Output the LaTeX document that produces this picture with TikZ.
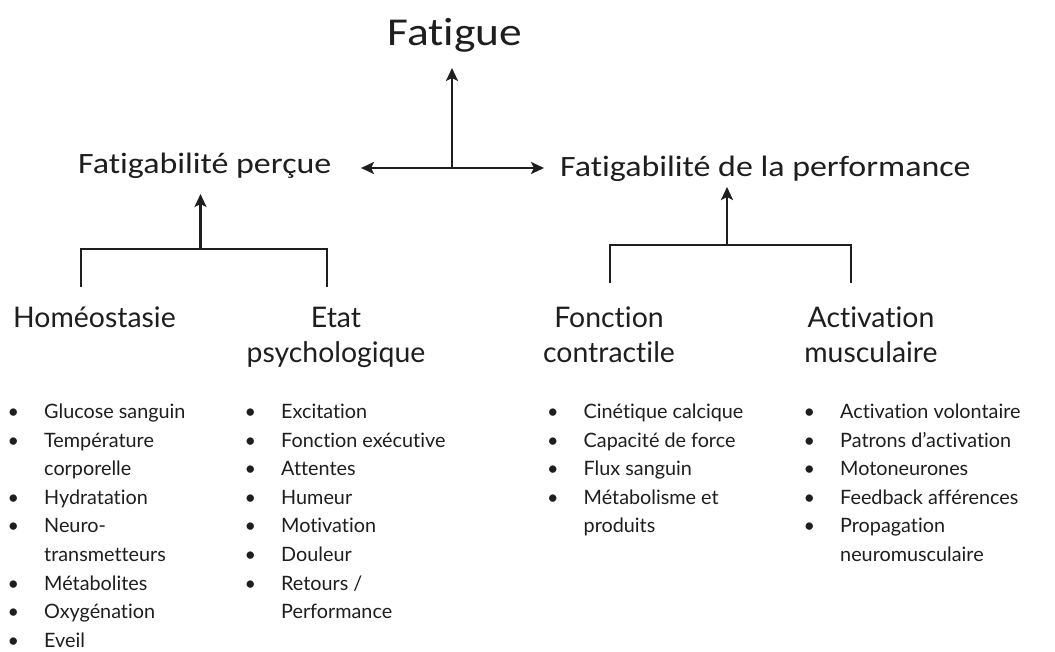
\documentclass[tikz,border=0pt]{standalone}
\usepackage{fontspec}
\usetikzlibrary{arrows.meta}
\newfontfamily\topfont[FakeStretch=1.15,Ligatures={NoCommon,NoRare}]{Carlito}
\newfontfamily\botfont[Ligatures={NoCommon,NoRare}]{Lato}
\definecolor{ink}{HTML}{1E1E1E}
\newcommand\bl{\llap{\textbullet\hspace{25pt}}}
\begin{document}
\begin{tikzpicture}[x=1pt,y=-1pt,
  toplbl/.style={font=\topfont\fontsize{29.5}{35}\selectfont, inner sep=0pt, text=ink, anchor=base west},
  hdr/.style={font=\botfont\fontsize{28.4}{35.6}\selectfont, inner sep=0pt, text=ink, anchor=base},
  lst/.style={font=\botfont\fontsize{19.8}{28.6}\selectfont, inner sep=0pt, text=ink, anchor=base west},
  arr/.style={-{Stealth[length=13pt,width=12pt,inset=3pt]}, line width=2.4pt, draw=ink},
  brk/.style={line width=2.8pt, draw=ink}]
\useasboundingbox[fill=white] (0,0) rectangle (1055,651);

% top labels
\node[toplbl, font=\topfont\fontsize{39.5}{45}\selectfont, anchor=base] (fatigue) at (455,45) {Fatigue};
\node[toplbl] (perc) at (78,173) {Fatigabilité perçue};
\node[toplbl] (perf) at (560,176) {Fatigabilité de la performance};

% junctions
\coordinate (hc) at (452,168);
\coordinate (fatTip) at (452,68);
\coordinate (lTip) at (361,168);
\coordinate (rTip) at (544,168);
\draw[arr] (hc) -- (fatTip);
\draw[arr] (hc) -- (lTip);
\draw[arr] (hc) -- (rTip);

% left bracket
\coordinate (lbA) at (81,287);
\coordinate (lbB) at (81,249);
\coordinate (lbC) at (327,249);
\coordinate (lbD) at (327,287);
\coordinate (lbM) at (200.5,249);
\coordinate (lbT) at (200.5,194);
\draw[brk] (lbA) -- (lbB) -- (lbC) -- (lbD);
\draw[arr] (lbM) -- (lbT);

% right bracket
\coordinate (rbA) at (610,283);
\coordinate (rbB) at (610,245);
\coordinate (rbC) at (851,245);
\coordinate (rbD) at (851,283);
\coordinate (rbM) at (727,245);
\coordinate (rbT) at (727,187);
\draw[brk] (rbA) -- (rbB) -- (rbC) -- (rbD);
\draw[arr] (rbM) -- (rbT);

% headers
\node[hdr, anchor=base west] (hom) at (13,327) {Homéostasie};
\node[hdr] (etat) at (336,327) {\begin{tabular}[t]{@{}c@{}}Etat\\psychologique\end{tabular}};
\node[hdr] (fonc) at (609,327) {\begin{tabular}[t]{@{}c@{}}Fonction\\contractile\end{tabular}};
\node[hdr] (activ) at (871,327) {\begin{tabular}[t]{@{}c@{}}Activation\\musculaire\end{tabular}};

% lists
\node[lst] (homList) at (44,418.5) {\begin{tabular}[t]{@{}l@{}}
\bl Glucose sanguin\\
\bl Température\\
corporelle\\
\bl Hydratation\\
\bl Neuro-\\
transmetteurs\\
\bl Métabolites\\
\bl Oxygénation\\
\bl Eveil
\end{tabular}};
\node[lst] (etatList) at (281,418.5) {\begin{tabular}[t]{@{}l@{}}
\bl Excitation\\
\bl Fonction exécutive\\
\bl Attentes\\
\bl Humeur\\
\bl Motivation\\
\bl Douleur\\
\bl Retours /\\
Performance
\end{tabular}};
\node[lst] (foncList) at (583.5,418.5) {\begin{tabular}[t]{@{}l@{}}
\bl Cinétique calcique\\
\bl Capacité de force\\
\bl Flux sanguin\\
\bl Métabolisme et\\
produits
\end{tabular}};
\node[lst] (activList) at (840,418.5) {\begin{tabular}[t]{@{}l@{}}
\bl Activation volontaire\\
\bl Patrons d’activation\\
\bl Motoneurones\\
\bl Feedback afférences\\
\bl Propagation\\
neuromusculaire
\end{tabular}};
\end{tikzpicture}
\end{document}
